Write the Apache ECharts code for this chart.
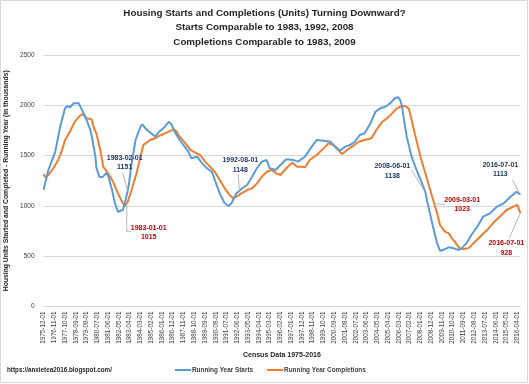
<!DOCTYPE html>
<html>
<head>
<meta charset="utf-8">
<script src="https://cdn.jsdelivr.net/npm/echarts@6/dist/echarts.min.js"></script>
<style>html,body{margin:0;padding:0;background:#fff;}#c{width:529px;height:384px;}</style>
</head>
<body>
<div id="c"></div>
<script>
// ---- data ----
var titleLines = ['Housing Starts and Completions (Units) Turning Downward?', 'Starts Comparable to 1983, 1992, 2008', 'Completions Comparable to 1983, 2009'];
var yAxisName = 'Housing Units Started and Completed - Running Year (in thousands)';
var xAxisName = 'Census Data 1975-2016';
var sourceText = 'https://anxietea2016.blogspot.com/';
var firstMonth = [1975, 12];
var lastMonth = [2016, 7];
var seriesNames = ['Running Year Starts', 'Running Year Completions'];

var startsDates = ['1975-12','1976-05','1976-12','1977-05','1977-10','1977-12','1978-03','1978-07','1978-12','1979-02','1979-05','1979-08','1979-12','1980-02','1980-05','1980-06','1980-09','1980-12','1981-04','1981-06','1981-10','1982-01','1982-04','1982-06','1982-09','1982-11','1983-01','1983-02','1983-03','1983-06','1983-10','1984-03','1984-05','1984-09','1985-01','1985-06','1985-11','1986-04','1986-08','1986-11','1987-02','1987-06','1987-11','1988-04','1988-07','1989-01','1989-06','1989-11','1990-04','1990-07','1990-12','1991-05','1991-09','1991-12','1992-05','1992-08','1992-11','1993-04','1993-09','1994-02','1994-07','1994-12','1995-03','1995-09','1996-02','1996-08','1997-03','1997-08','1998-03','1998-10','1999-03','1999-10','2000-05','2000-10','2001-03','2001-08','2002-01','2002-06','2002-11','2003-04','2003-10','2004-03','2004-08','2005-01','2005-06','2005-11','2006-02','2006-04','2006-06','2006-08','2006-11','2007-04','2007-09','2008-02','2008-06','2008-08','2009-01','2009-06','2009-09','2009-12','2010-06','2010-11','2011-04','2011-07','2011-12','2012-05','2012-11','2013-05','2013-12','2014-07','2015-02','2015-09','2016-03','2016-05','2016-07'];
var startsValues = [1160,1357,1539,1788,1970,1990,1980,2020,2020,2005,1920,1854,1750,1655,1489,1380,1290,1284,1324,1300,1158,1026,942,926,959,1026,1108,1151,1200,1423,1655,1787,1811,1761,1730,1690,1745,1788,1837,1804,1738,1672,1605,1539,1473,1489,1423,1374,1340,1257,1125,1026,999,1026,1125,1148,1175,1208,1290,1374,1440,1456,1374,1357,1406,1463,1456,1440,1489,1589,1655,1648,1638,1589,1549,1589,1605,1638,1705,1721,1821,1936,1970,1986,2020,2070,2080,2060,2000,1870,1688,1489,1357,1240,1138,1040,827,628,555,562,588,578,562,578,628,711,793,893,926,992,1026,1091,1141,1131,1113];

var complDates = ['1975-12','1976-02','1976-05','1976-10','1977-03','1977-07','1977-10','1978-03','1978-08','1979-01','1979-04','1979-08','1980-01','1980-04','1980-06','1980-10','1981-01','1981-06','1981-11','1982-04','1982-09','1982-11','1983-01','1983-02','1983-06','1983-11','1984-03','1984-06','1985-01','1985-06','1985-11','1986-04','1986-06','1987-01','1987-04','1987-07','1988-01','1988-06','1988-11','1989-04','1989-09','1990-02','1990-07','1990-12','1991-05','1991-11','1992-02','1992-05','1992-10','1993-04','1993-09','1994-02','1994-07','1994-12','1995-05','1995-10','1996-02','1996-08','1997-02','1997-07','1997-12','1998-03','1998-08','1999-03','1999-10','2000-03','2000-08','2001-01','2001-05','2001-10','2002-03','2002-10','2003-04','2003-11','2004-04','2004-10','2005-03','2005-08','2006-01','2006-06','2006-09','2007-01','2007-04','2007-08','2008-01','2008-06','2008-11','2009-03','2009-06','2009-09','2010-02','2010-06','2010-09','2010-12','2011-05','2011-09','2012-02','2012-07','2013-02','2013-09','2014-03','2014-10','2015-05','2015-12','2016-04','2016-06','2016-07'];
var complValues = [1317,1284,1307,1374,1456,1556,1655,1738,1837,1894,1913,1871,1861,1760,1721,1556,1390,1324,1241,1125,1026,999,1015,1040,1158,1324,1489,1605,1655,1672,1700,1721,1721,1761,1738,1688,1622,1556,1529,1506,1440,1390,1340,1257,1175,1098,1075,1091,1125,1158,1175,1224,1290,1340,1357,1324,1307,1374,1430,1390,1390,1383,1456,1506,1572,1622,1605,1556,1516,1556,1589,1638,1655,1672,1754,1837,1871,1920,1970,1993,1993,1970,1854,1688,1489,1324,1158,1023,926,810,744,727,678,644,578,571,578,628,694,760,827,893,959,992,1009,995,928];

var yTicks = [0, 500, 1000, 1500, 2000, 2500];

// annotations: series index, date, value label
var notes = [
  {s: 0, date: '1983-02', val: 1151},
  {s: 1, date: '1983-01', val: 1015},
  {s: 0, date: '1992-08', val: 1148},
  {s: 0, date: '2008-06', val: 1138},
  {s: 1, date: '2009-03', val: 1023},
  {s: 0, date: '2016-07', val: 1113},
  {s: 1, date: '2016-07', val: 928}
];
// label placement relative to point (style, not data)
var noteLayout = [
  {dx: -3, dy: -28, line: [[0,0],[-5,-18]]},
  {dx: 22, dy: 28, line: [[0,0],[0,27],[4,27]]},
  {dx: 1, dy: -26, line: [[0,0],[-1,-17]]},
  {dx: -33, dy: -21, line: [[0,0],[-14,-22]]},
  {dx: 28, dy: 1, line: [[0,0],[11,1]]},
  {dx: -20, dy: -25, line: [[0,0],[-8,-15]]},
  {dx: -14, dy: 35, line: [[0,0],[-11,25]]}
];

// ---- build categories ----
var months = [];
(function(){
  var y = firstMonth[0], m = firstMonth[1];
  while (y < lastMonth[0] || (y === lastMonth[0] && m <= lastMonth[1])) {
    months.push(y + '-' + (m < 10 ? '0' + m : m) + '-01');
    m++; if (m > 12) { m = 1; y++; }
  }
})();
function pairs(dates, vals) {
  return dates.map(function(d, i){ return [d + '-01', vals[i]]; });
}

var FONT = "'Liberation Sans','Arial',sans-serif";
var colors = ['#5B9BD5', '#ED7D31'];
var noteColors = ['#203864', '#C00000'];

var chart = echarts.init(document.getElementById('c'), null, {renderer: 'canvas'});
var option = {
  animation: false,
  textStyle: {fontFamily: FONT},
  color: colors,
  title: {
    text: titleLines.join('\n'),
    left: 'center', top: 1,
    textStyle: {fontFamily: FONT, fontSize: 9.8, fontWeight: 'bold', color: '#262626', lineHeight: 14.5}
  },
  grid: {left: 43.5, right: 8.7, top: 55, bottom: 77.5, containLabel: false, outerBoundsMode: 'none'},
  legend: {
    data: seriesNames,
    left: 175, top: 367, padding: 0,
    icon: 'rect', itemWidth: 16, itemHeight: 2, itemGap: 14,
    textStyle: {fontFamily: FONT, fontSize: 6.4, fontWeight: 'bold', color: '#404040', padding: [0,0,0,-4]}
  },
  xAxis: {
    type: 'category', data: months, boundaryGap: false,
    axisLine: {lineStyle: {color: '#D9D9D9'}},
    axisTick: {show: false},
    axisLabel: {rotate: 90, interval: 10, fontSize: 6.3, color: '#404040', margin: 5, fontFamily: FONT},
    name: xAxisName, nameLocation: 'middle', nameGap: 45,
    nameTextStyle: {fontFamily: FONT, fontSize: 7, fontWeight: 'bold', color: '#262626'}
  },
  yAxis: {
    type: 'value', min: yTicks[0], max: yTicks[yTicks.length-1], interval: yTicks[1]-yTicks[0],
    axisLine: {show: false}, axisTick: {show: false},
    axisLabel: {fontSize: 6.5, color: '#404040', margin: 9, fontFamily: FONT, formatter: function(v){ return String(v); }},
    splitLine: {lineStyle: {color: '#D9D9D9', width: 1}},
    name: yAxisName, nameLocation: 'middle', nameGap: 27, nameRotate: 90,
    nameTextStyle: {fontFamily: FONT, fontSize: 6.8, fontWeight: 'bold', color: '#262626'}
  },
  series: [
    {name: seriesNames[0], type: 'line', data: pairs(startsDates, startsValues), showSymbol: false, symbol: 'none', lineStyle: {width: 2, color: colors[0]}, z: 3},
    {name: seriesNames[1], type: 'line', data: pairs(complDates, complValues), showSymbol: false, symbol: 'none', lineStyle: {width: 2, color: colors[1]}, z: 2}
  ]
};
chart.setOption(option);

var g = [
  {type: 'rect', shape: {x: 0.5, y: 0.5, width: 527, height: 382}, style: {fill: 'none', stroke: '#D9D9D9', lineWidth: 1}, silent: true},
  {type: 'text', left: 7, top: 367, style: {text: sourceText, font: 'bold 6.3px ' + FONT, fill: '#262626'}}
];
notes.forEach(function(n, i){
  var p = chart.convertToPixel({seriesIndex: n.s}, [n.date + '-01', n.val]);
  var L = noteLayout[i];
  g.push({type: 'polyline', shape: {points: L.line.map(function(q){ return [p[0]+q[0], p[1]+q[1]]; })}, style: {stroke: '#A6A6A6', lineWidth: 0.8, fill: null}, z: 10});
  g.push({type: 'text', x: p[0] + L.dx, y: p[1] + L.dy, z: 11, style: {text: n.date + '-01\n' + n.val, font: 'bold 7px ' + FONT, fill: noteColors[n.s], align: 'center', verticalAlign: 'middle', lineHeight: 9.5}});
});
chart.setOption({graphic: g});
</script>
</body>
</html>
